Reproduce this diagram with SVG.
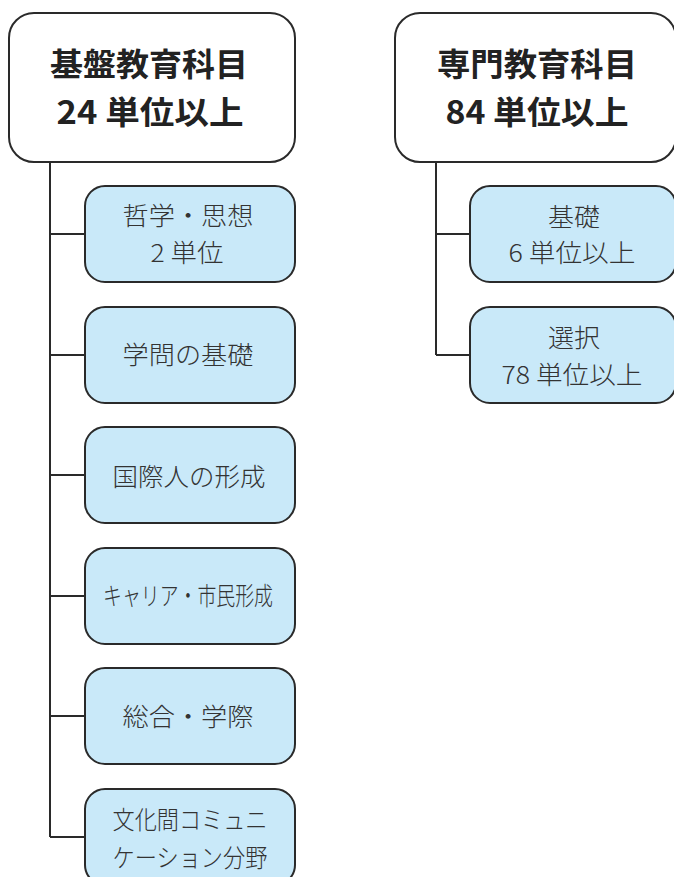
<svg xmlns="http://www.w3.org/2000/svg" width="674" height="877" viewBox="0 0 674 877">
<style>
.title{fill:#fff;stroke:#2a2a2a;stroke-width:2}
.child{fill:#c9e9f9;stroke:#2a2a2a;stroke-width:2}
.tt{font-family:"Noto Sans CJK JP","Noto Sans",sans-serif;font-size:32px;font-weight:bold;fill:#222;text-anchor:middle}
.ct{font-family:"Noto Sans CJK JP","Noto Sans",sans-serif;font-size:25px;font-weight:300;fill:#333;text-anchor:middle}
.conn{stroke:#2a2a2a;stroke-width:2;fill:none}
</style>
<rect width="674" height="877" fill="#fff"/>
<g id="connectors">
<path class="conn" d="M50 162V837M50 234H85M50 355H85M50 475H85M50 596H85M50 716H85M50 837H85"/>
<path class="conn" d="M436 162V355M436 234H470M436 355H470"/>
</g>
<g id="kiban">
<rect class="title" x="9" y="13" width="286" height="149" rx="25"/>
<text class="tt" x="149" y="76" textLength="198" lengthAdjust="spacingAndGlyphs">基盤教育科目</text>
<text class="tt" x="150" y="124" textLength="187" lengthAdjust="spacingAndGlyphs">24 単位以上</text>
</g>
<g id="senmon">
<rect class="title" x="395" y="13" width="281" height="149" rx="25"/>
<text class="tt" x="537" y="76" textLength="200" lengthAdjust="spacingAndGlyphs">専門教育科目</text>
<text class="tt" x="537" y="124" textLength="183" lengthAdjust="spacingAndGlyphs">84 単位以上</text>
</g>
<g id="tetsugaku">
<rect class="child" x="85" y="186" width="210" height="96" rx="20"/>
<text class="ct" x="188" y="225" textLength="131" lengthAdjust="spacingAndGlyphs">哲学・思想</text>
<text class="ct" x="187" y="262" textLength="73" lengthAdjust="spacingAndGlyphs">2 単位</text>
</g>
<g id="gakumon">
<rect class="child" x="85" y="307" width="210" height="96" rx="20"/>
<text class="ct" x="188" y="364" textLength="131" lengthAdjust="spacingAndGlyphs">学問の基礎</text>
</g>
<g id="kokusai">
<rect class="child" x="85" y="427" width="210" height="96" rx="20"/>
<text class="ct" x="189" y="486" textLength="153" lengthAdjust="spacingAndGlyphs">国際人の形成</text>
</g>
<g id="career">
<rect class="child" x="85" y="548" width="210" height="96" rx="20"/>
<text class="ct" x="188" y="605" textLength="170" lengthAdjust="spacingAndGlyphs">キャリア・市民形成</text>
</g>
<g id="sogo">
<rect class="child" x="85" y="668" width="210" height="96" rx="20"/>
<text class="ct" x="188" y="726" textLength="131" lengthAdjust="spacingAndGlyphs">総合・学際</text>
</g>
<g id="bunka">
<rect class="child" x="85" y="789" width="210" height="96" rx="20"/>
<text class="ct" x="190" y="829" textLength="155" lengthAdjust="spacingAndGlyphs">文化間コミュニ</text>
<text class="ct" x="190" y="867" textLength="155" lengthAdjust="spacingAndGlyphs">ケーション分野</text>
</g>
<g id="kiso">
<rect class="child" x="470" y="186" width="206" height="96" rx="20"/>
<text class="ct" x="574" y="226" textLength="52" lengthAdjust="spacingAndGlyphs">基礎</text>
<text class="ct" x="572" y="262" textLength="127" lengthAdjust="spacingAndGlyphs">6 単位以上</text>
</g>
<g id="sentaku">
<rect class="child" x="470" y="307" width="206" height="96" rx="20"/>
<text class="ct" x="574" y="347" textLength="52" lengthAdjust="spacingAndGlyphs">選択</text>
<text class="ct" x="572" y="384" textLength="141" lengthAdjust="spacingAndGlyphs">78 単位以上</text>
</g>
</svg>
